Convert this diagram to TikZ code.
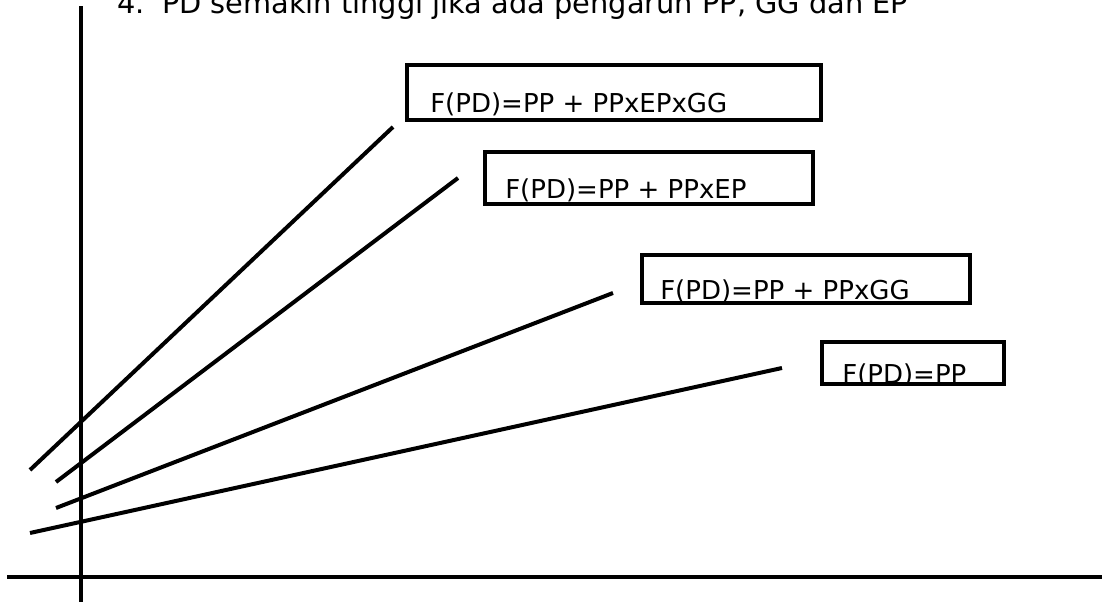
\documentclass[tikz,border=0pt]{standalone}
\usepackage{fontspec}
\setmainfont{DejaVu Sans}

\begin{document}
\begin{tikzpicture}[font=\fontsize{18.5}{22}\selectfont,
  axis/.style={line width=1mm},
  graph/.style={line width=1mm},
  fbox/.style={draw, line width=1mm, inner sep=0pt, outer sep=0pt},
  ftext/.style={anchor=base west, inner sep=0pt}]

\useasboundingbox (0,0) rectangle (27.55,15.05);

%% ===================== title =====================
\node[ftext, font=\fontsize{20.5}{24}\selectfont] (title) at (2.925,14.72)
  {4.\hspace{0.6em}PD semakin tinggi jika ada pengaruh PP, GG dan EP};

%% ===================== axes =====================
\draw[axis] (2.025,0) -- (2.025,14.9);
\draw[axis] (0.175,0.625) -- (27.55,0.625);

%% ===================== four lines =====================
\coordinate (l1a) at (0.75,3.30);  \coordinate (l1b) at (9.825,11.875);
\coordinate (l2a) at (1.40,3.00);  \coordinate (l2b) at (11.45,10.60);
\coordinate (l3a) at (1.40,2.35);  \coordinate (l3b) at (15.325,7.725);
\coordinate (l4a) at (0.75,1.725); \coordinate (l4b) at (19.55,5.85);
\foreach \i in {1,...,4}{\draw[graph] (l\i a) -- (l\i b);}

%% ===================== formula boxes =====================
\node[fbox, minimum width=10.35cm, minimum height=1.375cm] (b1) at (15.35,12.7375) {};
\node[fbox, minimum width=8.2cm,   minimum height=1.3cm]   (b2) at (16.225,10.6)  {};
\node[fbox, minimum width=8.2cm,   minimum height=1.2cm]   (b3) at (20.15,8.075)  {};
\node[fbox, minimum width=4.55cm,  minimum height=1.05cm]  (b4) at (22.825,5.975) {};

% text is cut off by the box edge, as in the original
\begin{scope}
  \clip (b1.south west) rectangle (b1.north east);
  \node[ftext] (t1) at (10.75,12.225) {F(PD)=PP + PPxEPxGG};
\end{scope}
\begin{scope}
  \clip (b2.south west) rectangle (b2.north east);
  \node[ftext] (t2) at (12.625,10.075) {F(PD)=PP + PPxEP};
\end{scope}
\begin{scope}
  \clip (b3.south west) rectangle (b3.north east);
  \node[ftext] (t3) at (16.5,7.55) {F(PD)=PP + PPxGG};
\end{scope}
\begin{scope}
  \clip (b4.south west) rectangle (b4.north east);
  \node[ftext] (t4) at (21.05,5.45) {F(PD)=PP};
\end{scope}

\end{tikzpicture}
\end{document}
